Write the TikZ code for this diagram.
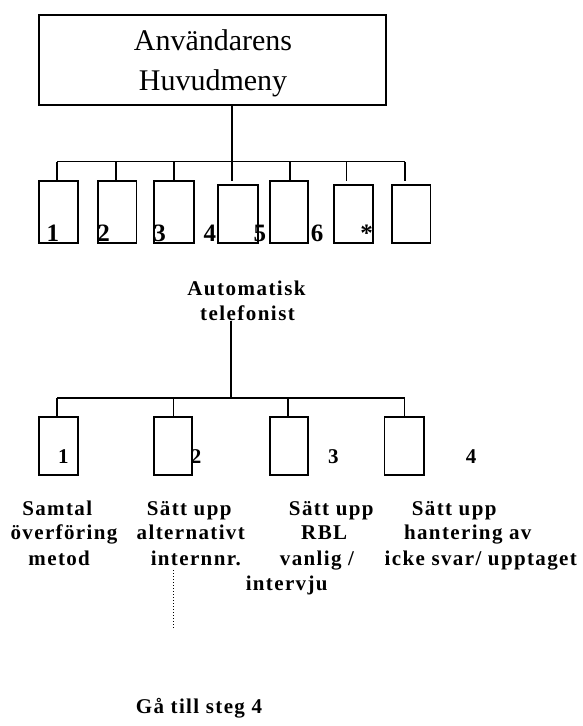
\documentclass[tikz,border=0pt]{standalone}
\usepackage{fontspec}
\setmainfont{Liberation Serif}
\newfontfamily\spacedfont[LetterSpace=6.5]{Liberation Serif}
\newfontfamily\autofont[LetterSpace=7]{Liberation Serif}
\begin{document}
\begin{tikzpicture}[x=1pt,y=-1pt,
  box/.style={draw, line width=1.8pt, rectangle, inner sep=0pt, outer sep=0pt},
  ln/.style={line width=1.7pt},
  toptxt/.style={anchor=base, inner sep=0pt, font=\fontsize{30}{36}\selectfont},
  dig/.style={anchor=base, inner sep=0pt, font=\fontsize{25}{30}\selectfont\bfseries},
  sdig/.style={anchor=base, inner sep=0pt, font=\fontsize{21}{25}\selectfont\bfseries},
  atxt/.style={anchor=base, inner sep=0pt, font=\autofont\bfseries\fontsize{21}{25}\selectfont},
  lbl/.style={anchor=base, inner sep=0pt, font=\spacedfont\bfseries\fontsize{21}{25}\selectfont},
  dotline/.style={line width=1.3pt, dash pattern=on 1.2pt off 1.8pt}]
\useasboundingbox (0,0) rectangle (583,726);

% top box
\node[box, minimum width=347pt, minimum height=90pt] (top) at (212.5,60) {};
\node[toptxt] (tt1) at (213,50) {Användarens};
\node[toptxt] (tt2) at (213,90.7) {Huvudmeny};

% upper bus junctions
\coordinate (j1) at (57.2,161.5);
\coordinate (j2) at (115.8,161.5);
\coordinate (j3) at (174.1,161.5);
\coordinate (j4) at (232,161.5);
\coordinate (j5) at (290.2,161.5);
\coordinate (j6) at (346.6,161.5);
\coordinate (j7) at (404.8,161.5);
\coordinate (e1) at (57.2,181.3);
\coordinate (e2) at (115.8,181.3);
\coordinate (e3) at (174.1,181.3);
\coordinate (e4) at (232,181.3);
\coordinate (e5) at (290.2,181.3);
\coordinate (e6) at (346.6,181.3);
\coordinate (e7) at (404.8,181.3);

% upper boxes
\node[box, minimum width=38.5pt, minimum height=61.7pt] (b1) at (58.45,211.85) {};
\node[box, minimum width=38.5pt, minimum height=61.7pt] (b2) at (117.15,211.85) {};
\node[box, minimum width=40.3pt, minimum height=61.7pt] (b3) at (174.15,211.85) {};
\node[box, minimum width=40pt, minimum height=57.7pt] (b4) at (238,213.85) {};
\node[box, minimum width=38.3pt, minimum height=61.7pt] (b5) at (288.85,211.85) {};
\node[box, minimum width=38.7pt, minimum height=57.7pt] (b6) at (353.35,213.85) {};
\node[box, minimum width=38.3pt, minimum height=57.7pt] (b7) at (411.35,213.85) {};

\draw[ln] (top.south -| j4) -- (j4);
\draw[ln] (j1) -- (j7);
\draw[ln] (j1) -- (e1);
\draw[ln] (j2) -- (e2);
\draw[ln] (j3) -- (e3);
\draw[ln] (j4) -- (e4);
\draw[ln] (j5) -- (e5);
\draw[ln] (j6) -- (e6);
\draw[ln] (j7) -- (e7);

% upper digits
\node[dig] (d1) at (52.8,241.5) {1};
\node[dig] (d2) at (103.5,241.5) {2};
\node[dig] (d3) at (159.5,241.5) {3};
\node[dig] (d4) at (209.8,241.5) {4};
\node[dig] (d5) at (259.8,241.5) {5};
\node[dig] (d6) at (317,241.5) {6};
\node[dig] (d7) at (366.5,241.5) {*};

% automatisk telefonist
\node[atxt] (at1) at (246.5,295) {Automatisk};
\node[atxt] (at2) at (247.5,320.7) {telefonist};

\coordinate (k0) at (231,398.3);
\coordinate (k1) at (57.2,398.3);
\coordinate (k2) at (173.6,398.3);
\coordinate (k3) at (288,398.3);
\coordinate (k4) at (404.5,398.3);

\node[box, minimum width=38.6pt, minimum height=58pt] (c1) at (58.4,445.7) {};
\node[box, minimum width=38.3pt, minimum height=58pt] (c2) at (172.85,445.7) {};
\node[box, minimum width=38.6pt, minimum height=58pt] (c3) at (288.9,445.7) {};
\node[box, minimum width=39.8pt, minimum height=58pt] (c4) at (404.4,445.7) {};

\draw[ln] (at2.base -| k0) -- (k0);
\draw[ln] (k1) -- (k4);
\draw[ln] (k1) -- (c1.north -| k1);
\draw[ln] (k2) -- (c2.north -| k2);
\draw[ln] (k3) -- (c3.north -| k3);
\draw[ln] (k4) -- (c4.north -| k4);

\node[sdig] (f1) at (63.3,463) {1};
\node[sdig] (f2) at (196,463) {2};
\node[sdig] (f3) at (333.3,463) {3};
\node[sdig] (f4) at (471,463) {4};

% labels
\node[lbl] (l11) at (57.2,515.5) {Samtal};
\node[lbl] (l12) at (64,539.5) {överföring};
\node[lbl] (l13) at (59.2,565) {metod};
\node[lbl] (l21) at (189.2,515.5) {Sätt upp};
\node[lbl] (l22) at (190.8,539.5) {alternativt};
\node[lbl] (l23) at (195.8,565) {internnr.};
\node[lbl] (l31) at (331.3,515.5) {Sätt upp};
\node[lbl] (l32) at (324.2,539.5) {RBL};
\node[lbl] (l33) at (317,565) {vanlig /};
\node[lbl] (l34) at (286.7,590) {intervju};
\node[lbl] (l41) at (454.2,515.5) {Sätt upp};
\node[lbl] (l42) at (467.8,539.5) {hantering av};
\node[lbl] (l43) at (480.8,565) {icke svar/ upptaget};

\coordinate (p1) at (173.6,570);
\coordinate (p2) at (173.6,628);
\draw[dotline] (p1) -- (p2);

\node[lbl] (go) at (199,713.3) {Gå till steg 4};
\end{tikzpicture}
\end{document}
